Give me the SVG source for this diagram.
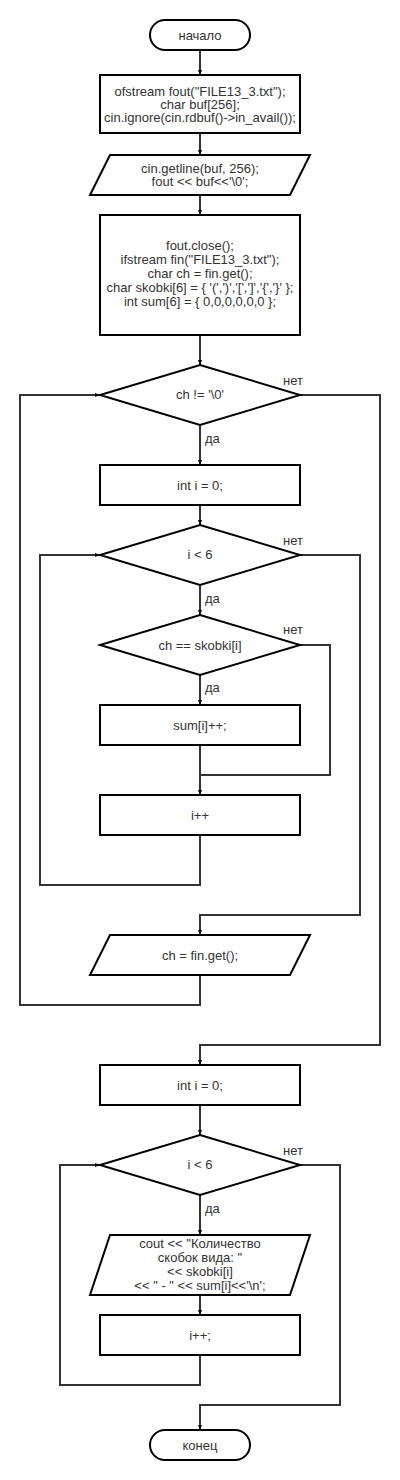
<svg xmlns="http://www.w3.org/2000/svg" width="400" height="1480" viewBox="0 0 400 1480">
<style>
.s{fill:#fff;stroke:#000;stroke-width:2}
.c{fill:none;stroke:#333;stroke-width:2}
.t{font-family:"Liberation Sans",Arial,Helvetica,sans-serif;font-size:13px;fill:#333;text-anchor:middle}
.l{font-family:"Liberation Sans",Arial,Helvetica,sans-serif;font-size:13px;fill:#333}
</style>
<defs>
<marker id="a" markerUnits="userSpaceOnUse" markerWidth="5" markerHeight="5" viewBox="0 0 5 5" refX="5" refY="2.5" orient="auto">
<path d="M0,0.5 L5,2.5 L0,4.5 z" fill="#000"/>
</marker>
</defs>
<rect width="400" height="1480" fill="#fff"/>
<g id="connectors">
<path class="c" d="M200,50 V75" marker-end="url(#a)"/>
<path class="c" d="M200,133 V155" marker-end="url(#a)"/>
<path class="c" d="M200,195 V215" marker-end="url(#a)"/>
<path class="c" d="M200,335 V365" marker-end="url(#a)"/>
<path class="c" d="M200,425 V465" marker-end="url(#a)"/>
<path class="c" d="M200,505 V525" marker-end="url(#a)"/>
<path class="c" d="M200,585 V615" marker-end="url(#a)"/>
<path class="c" d="M200,675 V705" marker-end="url(#a)"/>
<path class="c" d="M200,745 V795" marker-end="url(#a)"/>
<path class="c" d="M300,645 H330 V775 H200"/>
<path class="c" d="M200,835 V885 H40 V555 H100" marker-end="url(#a)"/>
<path class="c" d="M300,555 H360 V915 H200 V935" marker-end="url(#a)"/>
<path class="c" d="M200,975 V1005 H20 V395 H100" marker-end="url(#a)"/>
<path class="c" d="M300,395 H380 V1045 H200 V1065" marker-end="url(#a)"/>
<path class="c" d="M200,1105 V1135" marker-end="url(#a)"/>
<path class="c" d="M200,1195 V1235" marker-end="url(#a)"/>
<path class="c" d="M200,1295 V1315" marker-end="url(#a)"/>
<path class="c" d="M200,1355 V1385 H60 V1165 H100" marker-end="url(#a)"/>
<path class="c" d="M300,1165 H340 V1405 H200 V1430" marker-end="url(#a)"/>
<text class="l" x="283" y="385">нет</text>
<text class="l" x="205" y="443">да</text>
<text class="l" x="283" y="545">нет</text>
<text class="l" x="205" y="603">да</text>
<text class="l" x="283" y="634">нет</text>
<text class="l" x="205" y="692">да</text>
<text class="l" x="283" y="1155">нет</text>
<text class="l" x="205" y="1213">да</text>
</g>
<g id="start">
<rect class="s" x="150" y="20" width="100" height="30" rx="15"/>
<text class="t" x="200" y="39.5">начало</text>
</g>
<g id="init1">
<rect class="s" x="100" y="75" width="200" height="58"/>
<text class="t" x="200" y="95.5">ofstream fout("FILE13_3.txt");</text>
<text class="t" x="200" y="108.5">char buf[256];</text>
<text class="t" x="200" y="121.5">cin.ignore(cin.rdbuf()-&gt;in_avail());</text>
</g>
<g id="input1">
<path class="s" d="M110,155 H310 L290,195 H90 Z"/>
<text class="t" x="200" y="173">cin.getline(buf, 256);</text>
<text class="t" x="200" y="186">fout &lt;&lt; buf&lt;&lt;'\0';</text>
</g>
<g id="init2">
<rect class="s" x="100" y="215" width="200" height="120"/>
<text class="t" x="200" y="249.5">fout.close();</text>
<text class="t" x="200" y="263.5">ifstream fin("FILE13_3.txt");</text>
<text class="t" x="200" y="277.5">char ch = fin.get();</text>
<text class="t" x="200" y="291.5">char skobki[6] = { '(',')','[',']','{','}' };</text>
<text class="t" x="200" y="305.5">int sum[6] = { 0,0,0,0,0,0 };</text>
</g>
<g id="cond1">
<path class="s" d="M200,365 L300,395 L200,425 L100,395 Z"/>
<text class="t" x="200" y="399">ch != '\0'</text>
</g>
<g id="initI1">
<rect class="s" x="100" y="465" width="200" height="40"/>
<text class="t" x="200" y="489.5">int i = 0;</text>
</g>
<g id="cond2">
<path class="s" d="M200,525 L300,555 L200,585 L100,555 Z"/>
<text class="t" x="200" y="559">i &lt; 6</text>
</g>
<g id="cond3">
<path class="s" d="M200,615 L300,645 L200,675 L100,645 Z"/>
<text class="t" x="200" y="649.5">ch == skobki[i]</text>
</g>
<g id="inc_sum">
<rect class="s" x="100" y="705" width="200" height="40"/>
<text class="t" x="200" y="729.5">sum[i]++;</text>
</g>
<g id="inc_i1">
<rect class="s" x="100" y="795" width="200" height="40"/>
<text class="t" x="200" y="819.5">i++</text>
</g>
<g id="read_ch">
<path class="s" d="M110,935 H310 L290,975 H90 Z"/>
<text class="t" x="200" y="959.5">ch = fin.get();</text>
</g>
<g id="initI2">
<rect class="s" x="100" y="1065" width="200" height="40"/>
<text class="t" x="200" y="1089.5">int i = 0;</text>
</g>
<g id="cond4">
<path class="s" d="M200,1135 L300,1165 L200,1195 L100,1165 Z"/>
<text class="t" x="200" y="1169">i &lt; 6</text>
</g>
<g id="output">
<path class="s" d="M110,1235 H310 L290,1295 H90 Z"/>
<text class="t" x="200" y="1247.5">cout &lt;&lt; "Количество</text>
<text class="t" x="200" y="1261.5">скобок вида: "</text>
<text class="t" x="200" y="1275.5">&lt;&lt; skobki[i]</text>
<text class="t" x="200" y="1289.5">&lt;&lt; " - " &lt;&lt; sum[i]&lt;&lt;'\n';</text>
</g>
<g id="inc_i2">
<rect class="s" x="100" y="1315" width="200" height="40"/>
<text class="t" x="200" y="1339.5">i++;</text>
</g>
<g id="end">
<rect class="s" x="150" y="1430" width="100" height="30" rx="15"/>
<text class="t" x="200" y="1449.5">конец</text>
</g>
</svg>
